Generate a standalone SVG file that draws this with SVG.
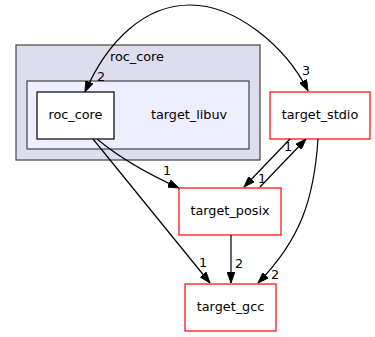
<svg xmlns="http://www.w3.org/2000/svg" width="375" height="337" viewBox="0 0 375 337">
  <style>
    text { font-family: "DejaVu Sans", "Liberation Sans", sans-serif; font-size: 12.8px; fill: #000; }
    .lbl { text-anchor: middle; }
    .edge { fill: none; stroke: #000; stroke-width: 1.2; }
    .red { fill: #fff; stroke: #ff0000; stroke-width: 1.2; }
  </style>
  <defs>
    <marker id="arrow" viewBox="0 0 11 8" refX="11" refY="4" markerWidth="11" markerHeight="8" markerUnits="userSpaceOnUse" orient="auto-start-reverse">
      <path d="M0,0 L11,4 L0,8 z" fill="#000" stroke="#000" stroke-width="0.8"/>
    </marker>
  </defs>

  <!-- directory clusters -->
  <g id="cluster_roc_core">
    <rect x="16" y="45" width="244" height="115" fill="#ddddee" stroke="#444444" stroke-width="1.2"/>
    <text class="lbl" x="137" y="61">roc_core</text>
  </g>
  <g id="cluster_target_libuv">
    <rect x="27" y="81" width="222" height="68" fill="#eeeeff" stroke="#444444" stroke-width="1.2"/>
    <text class="lbl" x="189" y="119">target_libuv</text>
  </g>

  <!-- nodes -->
  <g id="node_roc_core">
    <rect x="37" y="92" width="77" height="47" fill="#fff" stroke="#000" stroke-width="1.2"/>
    <text class="lbl" x="75.5" y="119">roc_core</text>
  </g>
  <g id="node_target_stdio">
    <rect class="red" x="270" y="92" width="100" height="47"/>
    <text class="lbl" x="320" y="119">target_stdio</text>
  </g>
  <g id="node_target_posix">
    <rect class="red" x="179" y="188" width="102" height="47"/>
    <text class="lbl" x="230" y="215">target_posix</text>
  </g>
  <g id="node_target_gcc">
    <rect class="red" x="185" y="284" width="91" height="47"/>
    <text class="lbl" x="230.5" y="311">target_gcc</text>
  </g>

  <!-- dependency edges -->
  <g id="edges">
    <path class="edge" d="M85,92 C108,40 145,5 190,5 C235,5 285,45 308,91" marker-start="url(#arrow)" marker-end="url(#arrow)"/>
    <text x="97" y="81">2</text>
    <text x="302" y="75">3</text>

    <path class="edge" d="M97,139 C120,158 150,175 179,188" marker-end="url(#arrow)"/>
    <text x="163" y="175">1</text>

    <path class="edge" d="M93,139 L210,283" marker-end="url(#arrow)"/>
    <text x="199" y="267">1</text>

    <path class="edge" d="M231,235 L231,283" marker-end="url(#arrow)"/>
    <text x="235" y="268">2</text>

    <path class="edge" d="M318,139 C314,200 300,240 258,283" marker-end="url(#arrow)"/>
    <text x="271" y="279">2</text>

    <path class="edge" d="M290,139 L244,187" marker-end="url(#arrow)"/>
    <text x="284" y="151">1</text>

    <path class="edge" d="M260,187 L306,139" marker-end="url(#arrow)"/>
    <text x="258" y="183">1</text>
  </g>
</svg>
